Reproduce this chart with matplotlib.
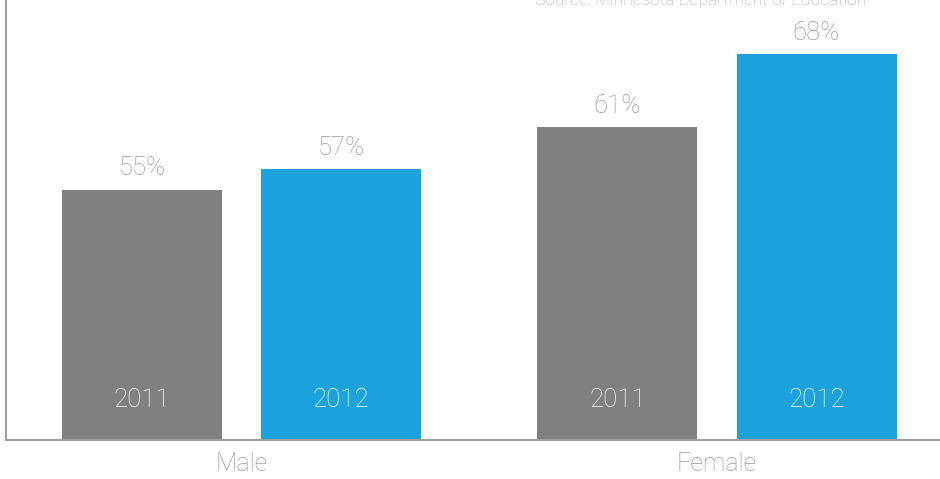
import matplotlib
matplotlib.use("Agg")
import matplotlib.pyplot as plt
import numpy as np

# data
groups = ["Male", "Female"]
years = ["2011", "2012"]
values_2011 = [55, 61]
values_2012 = [57, 68]

GRAY = "#808080"
BLUE = "#1ba1dc"
TEXT = "#999999"

plt.rcParams["font.family"] = ["Roboto", "DejaVu Sans"]
W = "light"

fig = plt.figure(figsize=(9.4, 4.79), dpi=100)
ax = fig.add_axes([6 / 940, 39 / 479, 934 / 940, 440 / 479])

x = np.arange(len(groups))
offset = 0.2093
width = 0.3365

series = [(values_2011, GRAY, years[0], -offset), (values_2012, BLUE, years[1], offset)]

ymin = 31.03
ax.set_ylim(ymin, 73.22)
ax.set_xlim(-0.4953, 1.469)

for vals, color, yr, off in series:
    ax.bar(x + off, np.array(vals) - ymin, width=width, bottom=ymin,
           color=color, zorder=2)
    for xi, v in zip(x + off, vals):
        # value on top
        ax.annotate(f"{v}%", xy=(xi, v), xytext=(0, 15.5), textcoords="offset points",
                    ha="center", va="center", fontsize=18.5, color=TEXT, fontweight=W)
        # year inside bar
        ax.annotate(yr, xy=(xi, ymin), xytext=(0, 29), textcoords="offset points",
                    ha="center", va="center", fontsize=18.5, color="white", fontweight=W)

# group labels
for xi, g in zip(x, groups):
    ax.annotate(g, xy=(xi, ymin), xytext=(0, -17.5), textcoords="offset points",
                ha="center", va="center", fontsize=18, color=TEXT, fontweight=W,
                annotation_clip=False)

ax.set_xticks([])
ax.set_yticks([])
for s in ["top", "right"]:
    ax.spines[s].set_visible(False)
for s in ["left", "bottom"]:
    ax.spines[s].set_color("#a0a0a0")
    ax.spines[s].set_linewidth(1.5)

fig.text(701 / 940, 1.0, "Source: Minnesota Department of Education",
         ha="center", va="center", fontsize=12.5, color="#aaaaaa", fontweight=W)

fig.savefig("out.png", dpi=100)
